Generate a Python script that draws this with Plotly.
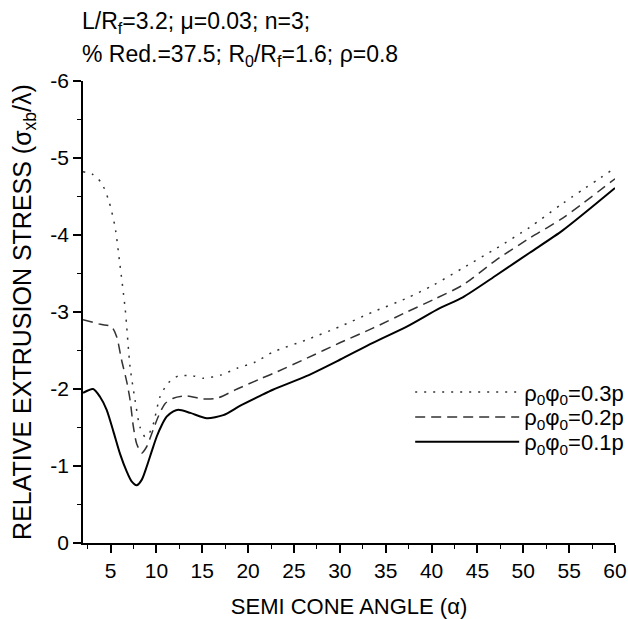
import plotly.graph_objects as go

# --- data ---
x_03 = [2, 3, 4, 4.8, 5.5, 6.0, 6.6, 7.13, 7.67, 8.2, 8.76, 9.1, 9.67, 10.4, 11.3, 12.4, 14, 15.1, 17, 18.8,
        20.8, 22.7, 26.4, 30, 33.6, 37.3, 40.2, 43.4, 47.1, 50.7, 54.3, 60]
y_03 = [-4.82, -4.79, -4.68, -4.45, -4.1, -3.64, -3.04, -2.29, -1.86, -1.51, -1.38, -1.40, -1.55, -1.9,
        -2.08, -2.17, -2.17, -2.14, -2.18, -2.27, -2.35, -2.48, -2.64, -2.81, -3.0, -3.18, -3.35, -3.57,
        -3.83, -4.1, -4.41, -4.87]

x_02 = [2, 3.9, 5.1, 5.67, 6.2, 6.76, 7.13, 7.49, 7.85, 8.4, 8.94, 9.49, 10.2, 10.94, 11.85, 13.3, 15.1,
        16.6, 18.8, 21.3, 22.7, 26.4, 30, 33.6, 37.3, 40.2, 43.4, 47.1, 50.7, 54.3, 60]
y_02 = [-2.90, -2.84, -2.81, -2.68, -2.38, -2.10, -1.86, -1.51, -1.29, -1.17, -1.25, -1.42, -1.64, -1.81,
        -1.88, -1.91, -1.87, -1.88, -2.0, -2.13, -2.2, -2.4, -2.6, -2.79, -3.0, -3.16, -3.35, -3.68, -3.96,
        -4.22, -4.73]

x_01 = [2, 3.1, 3.85, 4.58, 5.31, 6.03, 6.76, 7.3, 7.85, 8.4, 8.94, 9.49, 10.03, 10.58, 11.12, 11.85, 12.4,
        13.7, 15.5, 17.3, 19.1, 21.3, 22.7, 26.4, 30, 33.6, 37.3, 40.9, 43.4, 47.1, 50.7, 54.3, 60]
y_01 = [-1.95, -2.0, -1.90, -1.73, -1.45, -1.16, -0.93, -0.80, -0.75, -0.82, -0.99, -1.19, -1.38, -1.53,
        -1.64, -1.71, -1.73, -1.69, -1.62, -1.66, -1.78, -1.91, -1.99, -2.17, -2.38, -2.6, -2.81, -3.05,
        -3.19, -3.48, -3.77, -4.06, -4.61]

names = ["ρ<sub>0</sub>φ<sub>0</sub>=0.3p", "ρ<sub>0</sub>φ<sub>0</sub>=0.2p", "ρ<sub>0</sub>φ<sub>0</sub>=0.1p"]

x_ticks = [5, 10, 15, 20, 25, 30, 35, 40, 45, 50, 55, 60]
y_ticks = [0, -1, -2, -3, -4, -5, -6]
y_ticktext = ["0", "-1", "-2", "-3", "-4", "-5", "-6"]

FONT = "Arial, Liberation Sans, sans-serif"

fig = go.Figure()
fig.add_trace(go.Scatter(x=x_03, y=y_03, mode="lines", name=names[0], legend="legend",
                         line=dict(color="#333333", width=1.5, dash="2px,7px", shape="spline", smoothing=0.7)))
fig.add_trace(go.Scatter(x=x_02, y=y_02, mode="lines", name=names[1], legend="legend2",
                         line=dict(color="#333333", width=1.5, dash="10px,6px", shape="spline", smoothing=0.7)))
fig.add_trace(go.Scatter(x=x_01, y=y_01, mode="lines", name=names[2], legend="legend3",
                         line=dict(color="black", width=2, shape="spline", smoothing=0.7)))

leg_common = dict(x=0.615, xanchor="left", yanchor="top", bgcolor="rgba(0,0,0,0)",
                  font=dict(size=22), itemwidth=104)

fig.update_layout(
    width=628, height=619,
    margin=dict(l=83, r=13, t=81, b=76, autoexpand=False),
    paper_bgcolor="white", plot_bgcolor="white",
    font=dict(family=FONT, size=21, color="black"),
    showlegend=True,
    legend=dict(y=0.372, **leg_common),
    legend2=dict(y=0.318, **leg_common),
    legend3=dict(y=0.264, **leg_common),
    xaxis=dict(range=[2, 60], tickvals=x_ticks, showline=True, linecolor="black", linewidth=1.5,
               automargin=False,
               ticks="outside", ticklen=8, tickwidth=1.5, tickcolor="black", showgrid=False, zeroline=False,
               minor=dict(dtick=2.5, tick0=0, ticks="outside", ticklen=4, tickwidth=1.2, tickcolor="black"),
               title=dict(text="SEMI CONE ANGLE (α)", font=dict(size=22), standoff=19),
               tickfont=dict(size=21)),
    yaxis=dict(range=[0, -6], tickvals=y_ticks, ticktext=y_ticktext, showline=True, linecolor="black",
               linewidth=1.5, ticks="outside", ticklen=8, tickwidth=1.5, tickcolor="black", showgrid=False,
               zeroline=False, automargin=False,
               minor=dict(dtick=0.5, tick0=0, ticks="outside", ticklen=4, tickwidth=1.2, tickcolor="black"),
               title=dict(text="RELATIVE EXTRUSION STRESS (σ<sub>xb</sub>/λ)", font=dict(size=25), standoff=12),
               tickfont=dict(size=21)),
    annotations=[
        dict(text="L/R<sub>f</sub>=3.2; μ=0.03; n=3;", xref="paper", yref="paper", x=-0.006, y=1.126,
             xanchor="left", yanchor="middle", showarrow=False, font=dict(size=23)),
        dict(text="% Red.=37.5; R<sub>0</sub>/R<sub>f</sub>=1.6; ρ=0.8", xref="paper", yref="paper",
             x=-0.006, y=1.056, xanchor="left", yanchor="middle", showarrow=False, font=dict(size=23)),
    ],
)

fig.write_html("out.html")
